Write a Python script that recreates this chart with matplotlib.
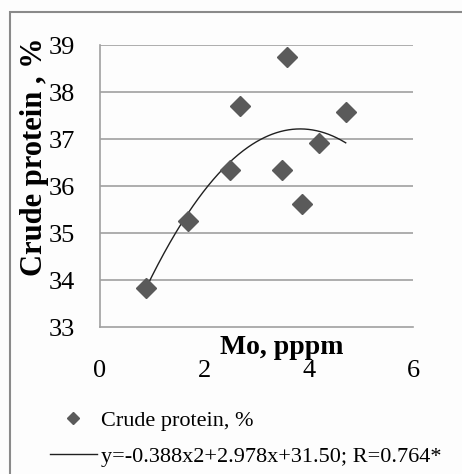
import numpy as np
import matplotlib
matplotlib.use("Agg")
import matplotlib.pyplot as plt
from matplotlib.patches import Rectangle

# data
mo_ppm = [0.88, 1.69, 2.49, 2.68, 3.48, 3.59, 3.88, 4.20, 4.71]
crude_protein = [33.83, 35.25, 36.35, 37.70, 36.35, 38.74, 35.62, 36.92, 37.58]
trend_coefs = [-0.388, 2.978, 31.50]  # from the legend equation
trend_label = "y=-0.388x2+2.978x+31.50; R=0.764*"
point_label = "Crude protein, %"
x_ticks = [0, 2, 4, 6]
y_ticks = [33, 34, 35, 36, 37, 38, 39]

plt.rcParams['font.family'] = ['Liberation Serif', 'DejaVu Serif']

fig = plt.figure(figsize=(4.62, 4.74), dpi=100)
fig.patch.set_facecolor("#fdfdfd")

# outer chart frame (runs off the right and bottom edges)
fig.patches.append(Rectangle((10 / 462, -0.1), 1.0, 1 - 12 / 474 + 0.1,
                             transform=fig.transFigure, fill=False,
                             edgecolor="#8a8a8a", linewidth=1.5))

ax = fig.add_axes([100 / 462, 1 - 327 / 474, 313 / 462, 282 / 474])
ax.set_facecolor("none")

for yv in y_ticks[1:]:
    ax.axhline(yv, color="#a0a0a0", linewidth=1.2, zorder=0)

xs = np.linspace(min(mo_ppm), max(mo_ppm), 200)
ax.plot(xs, np.polyval(trend_coefs, xs), color="#202020", linewidth=1.0,
        label=trend_label, zorder=2)
ax.plot(mo_ppm, crude_protein, linestyle="none", marker="D", markersize=10,
        color="#5a5a5a", label=point_label, zorder=3)

ax.set_xlim(0, 6)
ax.set_ylim(33, 39)
ax.set_xticks(x_ticks)
ax.set_yticks(y_ticks)
ax.tick_params(length=0, labelsize=19)
ax.tick_params(axis="y", pad=18)
ax.tick_params(axis="x", pad=24)
for s in ["top", "right"]:
    ax.spines[s].set_visible(False)
ax.spines["left"].set_color("#a0a0a0")
ax.spines["bottom"].set_color("#a0a0a0")
ax.spines["left"].set_linewidth(1.2)
ax.spines["bottom"].set_linewidth(1.2)

fig.text(282 / 462, 1 - 348 / 474, "Mo, pppm", ha="center", va="center",
         fontsize=20, fontweight="bold")
fig.text(35 / 462, 1 - 157 / 474, "Crude protein , %", ha="center", va="center",
         rotation=90, fontsize=22, fontweight="bold")

handles, labels = ax.get_legend_handles_labels()
fig.legend(handles[::-1], labels[::-1], loc="upper left",
           bbox_to_anchor=(50 / 462, 1 - 410 / 474), frameon=False,
           fontsize=16, handlelength=2.1, handletextpad=0.2, markerscale=0.6,
           labelspacing=0.7, borderaxespad=0, borderpad=0)

fig.savefig("out.png", dpi=100, facecolor=fig.get_facecolor())
